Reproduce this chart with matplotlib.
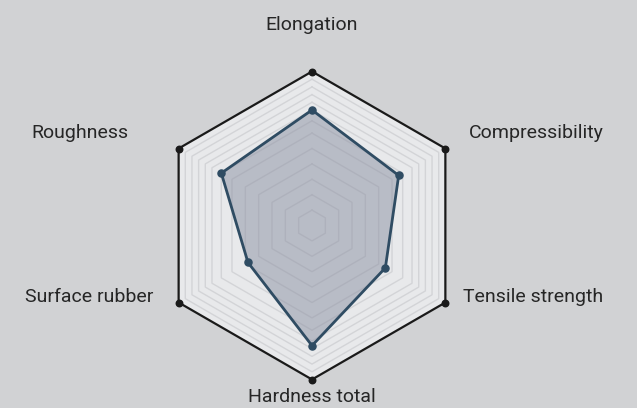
import matplotlib.pyplot as plt
import numpy as np

# radar data, values as fraction of the outer ring
labels = ['Elongation', 'Compressibility', 'Tensile strength',
          'Hardness total', 'Surface rubber', 'Roughness']
values = [0.75, 0.65, 0.55, 0.78, 0.48, 0.68]
grid_levels = [0.1, 0.2, 0.3, 0.4, 0.5, 0.6, 0.68, 0.75, 0.8, 0.85, 0.9, 0.95]

bg = '#d1d2d4'
n = len(labels)
# start at the top, go clockwise
ang = np.pi / 2 - np.arange(n) * 2 * np.pi / n
ang_c = np.append(ang, ang[0])

fig = plt.figure(figsize=(6.37, 4.08), dpi=100, facecolor=bg)
ax = fig.add_axes([0, 0, 1, 1])
ax.set_facecolor(bg)
cx, cy, R = 312, 225.5, 154
ax.set_xlim(-cx / R, (637 - cx) / R)
ax.set_ylim(-(408 - cy) / R, cy / R)
ax.axis('off')

# light face inside the outer hexagon
ax.fill(np.cos(ang_c), np.sin(ang_c), color='#e8e9eb', zorder=1)
for g in grid_levels:
    ax.plot(g * np.cos(ang_c), g * np.sin(ang_c), color='#d3d4d7', lw=1.0, zorder=2)
ax.plot(np.cos(ang_c), np.sin(ang_c), color='#1a1a1a', lw=1.6, zorder=5)
ax.scatter(np.cos(ang), np.sin(ang), s=22, color='#1a1a1a', zorder=6)

# data polygon
v = np.append(values, values[0])
ax.fill(v * np.cos(ang_c), v * np.sin(ang_c), color='#8a90a2', alpha=0.5, zorder=3)
ax.plot(v * np.cos(ang_c), v * np.sin(ang_c), color='#2f4c63', lw=2, zorder=4)
ax.scatter(np.array(values) * np.cos(ang), np.array(values) * np.sin(ang),
           s=26, color='#2f4c63', zorder=5)

# label positions (pixel offsets from centre)
lab_pos = [(0, 201), (224, 92), (221, -72), (0, -172), (-223, -72), (-232, 92)]
for t, (dx, dy) in zip(labels, lab_pos):
    ax.text(dx / R, dy / R, t, ha='center', va='center', fontsize=14,
            color='#262626', family=['Roboto', 'DejaVu Sans'])

plt.savefig('out.png', dpi=100, facecolor=bg)
